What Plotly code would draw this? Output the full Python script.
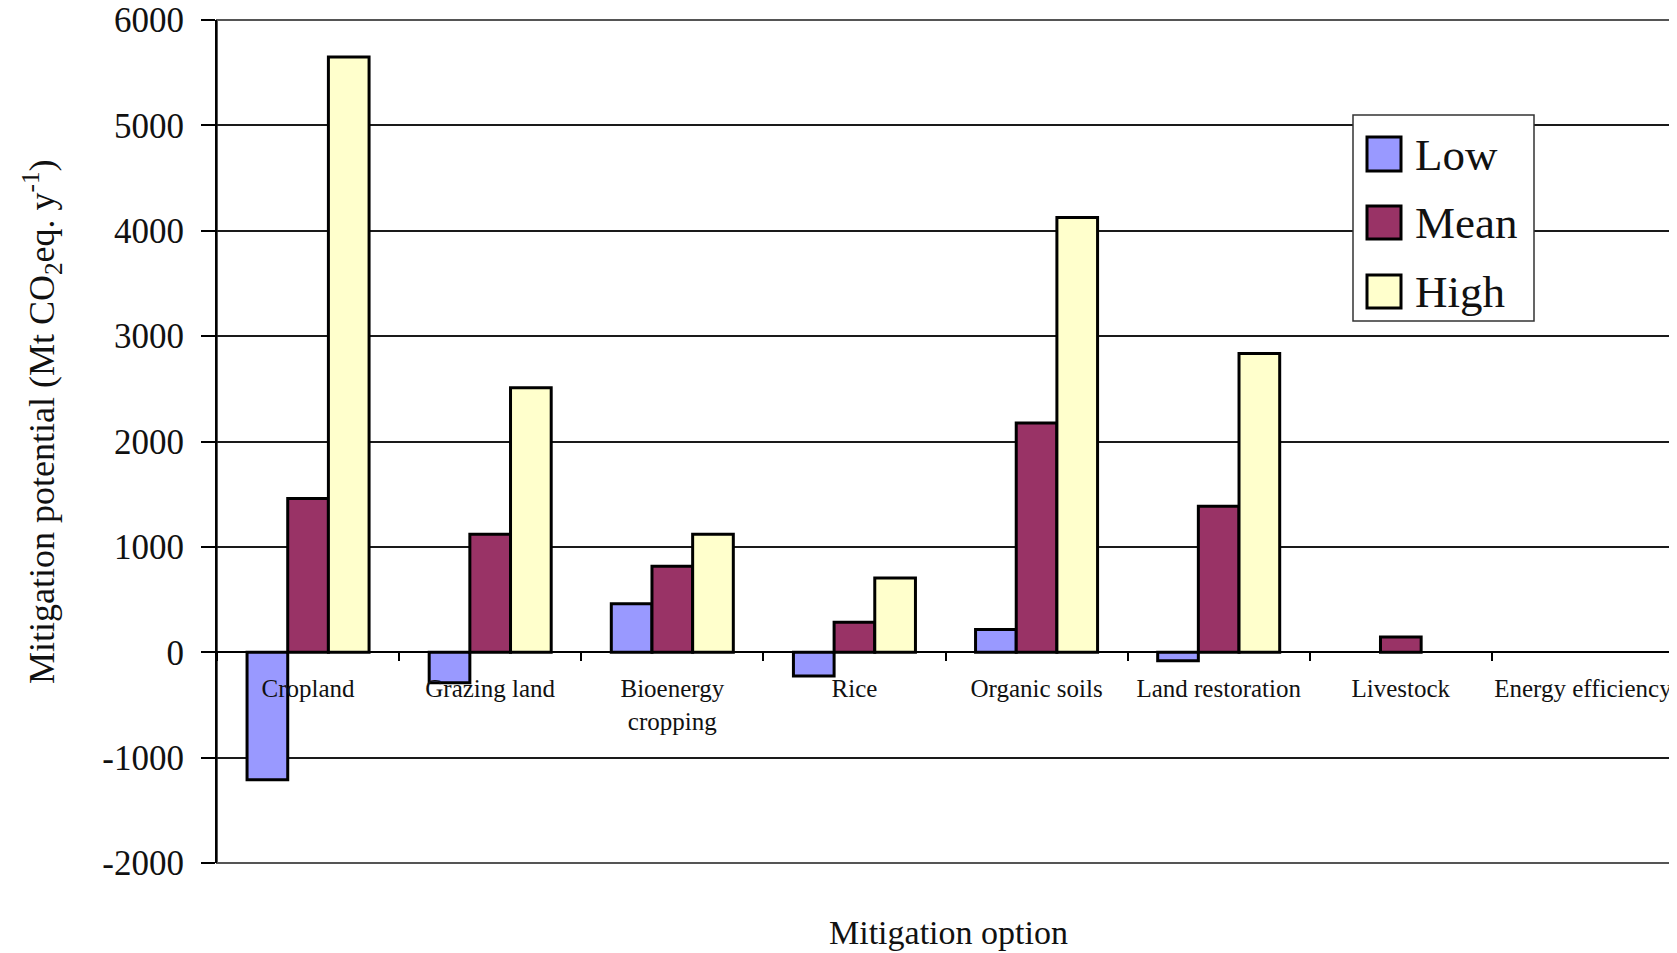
import plotly.graph_objects as go

categories = ["Cropland", "Grazing land", "Bioenergy<br>cropping", "Rice",
              "Organic soils", "Land restoration", "Livestock", "Energy efficiency"]
low_values = [-1210, -290, 460, -225, 215, -80, None, None]
mean_values = [1460, 1120, 815, 285, 2175, 1385, 145, None]
high_values = [5650, 2510, 1120, 705, 4125, 2835, None, None]
series_names = ["Low", "Mean", "High"]
series_colors = ["#9999FF", "#993366", "#FFFFCC"]
y_range = [-2000, 6000]
y_ticks = [-2000, -1000, 0, 1000, 2000, 3000, 4000, 5000, 6000]
y_tick_labels = [str(v) for v in y_ticks]

FONT = "Liberation Serif, Times New Roman, serif"
OFF = 8  # page body margin
W, H = 1677 - OFF, 953 - OFF
L, R, T, B = 217 - OFF, 1674 - OFF, 20 - OFF, 863 - OFF


def px_x(x):
    return (x - OFF - L) / (R - L)


def px_y(y):
    return (B - (y - OFF)) / (B - T)


fig = go.Figure()
for name, vals, col in zip(series_names, [low_values, mean_values, high_values], series_colors):
    fig.add_trace(go.Bar(
        x=categories, y=vals, name=name,
        marker=dict(color=col, line=dict(color="black", width=3)),
        showlegend=False,
    ))

zero_pos = (0 - y_range[0]) / (y_range[1] - y_range[0])

fig.update_layout(
    width=W, height=H,
    margin=dict(l=L, r=W - R, t=T, b=H - B, pad=0, autoexpand=False),
    paper_bgcolor="white", plot_bgcolor="white",
    barmode="group", bargap=0.33, bargroupgap=0,
    font=dict(family=FONT, color="#111"),
    xaxis=dict(
        type="category", anchor="free", position=zero_pos,
        showline=True, linecolor="black", linewidth=2,
        ticks="outside", tickson="boundaries", ticklen=8, tickwidth=2, tickcolor="black",
        tickfont=dict(size=25, family=FONT, color="#111"),
        tickangle=0,
        ticklabelstandoff=14,
        showgrid=False, zeroline=False,
    ),
    yaxis=dict(
        range=y_range, tickvals=y_ticks, ticktext=y_tick_labels,
        showline=True, linecolor="black", linewidth=2,
        ticks="outside", ticklen=14, tickwidth=2, tickcolor="black",
        tickfont=dict(size=35, family=FONT, color="#111"),
        ticklabelstandoff=10, ticklabeloverflow="allow",
        showgrid=True, gridcolor="#1a1a1a", gridwidth=1.5,
        zeroline=False,
    ),
)

shapes = [
    dict(type="rect", xref="paper", yref="paper", x0=0, x1=1, y0=0, y1=1,
         line=dict(color="#555", width=2), layer="below"),
    dict(type="rect", xref="paper", yref="paper",
         x0=px_x(1353), x1=px_x(1534), y0=px_y(321), y1=px_y(115),
         line=dict(color="#333", width=1.5), fillcolor="white", layer="above"),
]
rows = [(137, 171, 155), (206, 239, 223), (275, 308, 292)]
annotations = []
for (y0, y1, yc), name, col in zip(rows, series_names, series_colors):
    shapes.append(dict(type="rect", xref="paper", yref="paper",
                       x0=px_x(1367), x1=px_x(1401), y0=px_y(y1), y1=px_y(y0),
                       line=dict(color="black", width=3), fillcolor=col, layer="above"))
    annotations.append(dict(xref="paper", yref="paper", x=px_x(1413), y=px_y(yc),
                            text=name, showarrow=False, xanchor="left", yanchor="middle",
                            font=dict(size=45, family=FONT, color="#111")))

annotations.append(dict(xref="paper", yref="paper", x=px_x(948), y=px_y(932),
                        text="Mitigation option", showarrow=False,
                        xanchor="center", yanchor="middle",
                        font=dict(size=34, family=FONT, color="#111")))
annotations.append(dict(xref="paper", yref="paper", x=px_x(42), y=px_y(422),
                        text="Mitigation potential (Mt CO<sub>2</sub>eq. y<sup>-1</sup>)",
                        textangle=-90, showarrow=False,
                        xanchor="center", yanchor="middle",
                        font=dict(size=36, family=FONT, color="#111")))

fig.update_layout(shapes=shapes, annotations=annotations)
fig.write_html("out.html", config={"displayModeBar": False})
